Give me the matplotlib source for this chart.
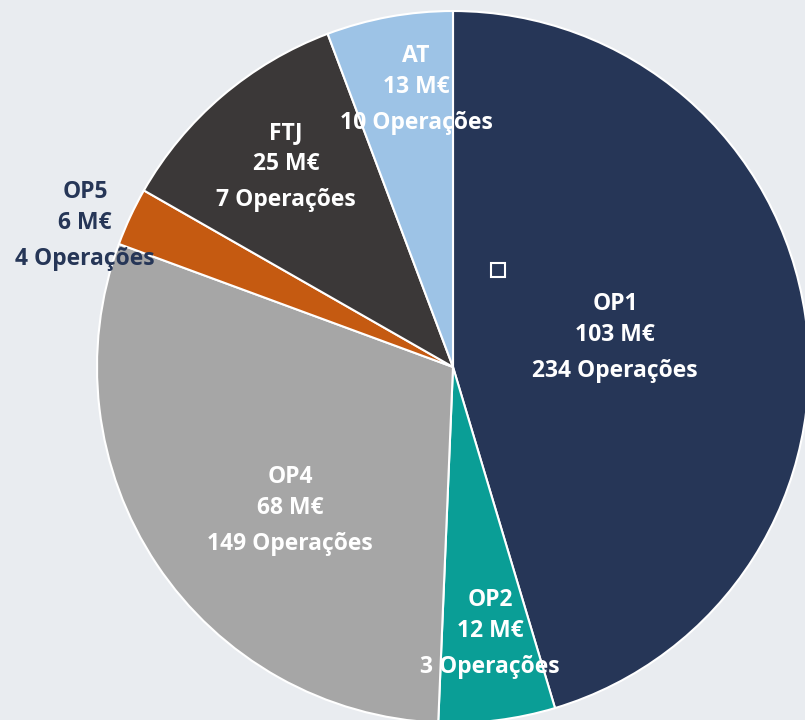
import matplotlib.pyplot as plt

# dados
categorias = ['OP1', 'OP2', 'OP4', 'OP5', 'FTJ', 'AT']
montantes = [103, 12, 68, 6, 25, 13]          # M€
operacoes = [234, 3, 149, 4, 7, 10]
cores = ['#263657', '#0A9E96', '#A6A6A6', '#C55A11', '#3B3838', '#9DC3E6']

# posição (px) e cor dos rótulos
pos_rotulos = [(615, 338), (490, 634), (290, 511), (85, 226), (286, 167), (416, 90)]
cor_rotulos = ['white', 'white', 'white', '#263657', 'white', 'white']

W, H = 805, 720
fig = plt.figure(figsize=(W / 100, H / 100), dpi=100)
fig.patch.set_facecolor('#E9ECF0')
ax = fig.add_axes([0, 0, 1, 1])

ax.pie(montantes, colors=cores, startangle=90, counterclock=False,
       center=(453, H - 367), radius=356,
       wedgeprops=dict(edgecolor='white', linewidth=1.5), frame=True)
ax.set_xlim(0, W)
ax.set_ylim(0, H)
ax.axis('off')

for cat, m, n, (x, y), c in zip(categorias, montantes, operacoes, pos_rotulos, cor_rotulos):
    y = H - y
    kw = dict(ha='center', va='center', color=c, fontsize=16.5,
              fontweight='bold', family=['Open Sans', 'DejaVu Sans'])
    ax.text(x, y + 34, cat, **kw)
    ax.text(x, y + 3, f'{m} M€', **kw)
    ax.text(x, y - 33, f'{n} Operações', **kw)

# pequeno quadrado
ax.add_patch(plt.Rectangle((491, H - 277), 14, 14, fill=False,
                           edgecolor='white', linewidth=1.5))

fig.savefig('out.png', dpi=100, facecolor=fig.get_facecolor())
